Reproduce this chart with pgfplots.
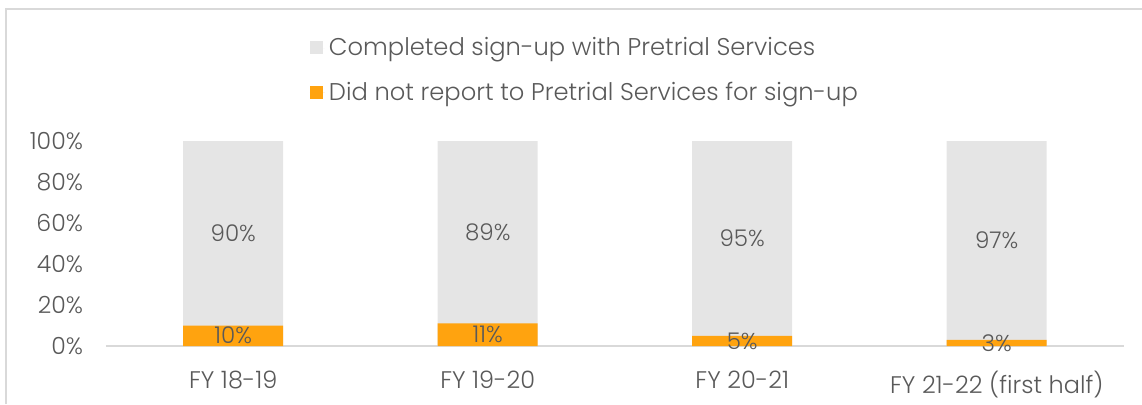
\documentclass[border=0pt]{standalone}
\usepackage{pgfplots}
\pgfplotsset{compat=1.18}
\usepackage{fontspec}
\setmainfont{Poppins}[UprightFont={* Light}]
\definecolor{txt}{HTML}{595959}
\definecolor{org}{HTML}{FFA30F}
\definecolor{lgray}{HTML}{E5E5E5}
\definecolor{frame}{HTML}{D9D9D9}
\begin{document}
\begin{tikzpicture}
\useasboundingbox (-53pt,-29pt) rectangle (518pt,173pt);
\draw[frame, line width=1pt] (-50pt,-29pt) -- (-50pt,168.5pt) -- (518pt,168.5pt);
\begin{axis}[
  at={(0,0)}, anchor=south west,
  scale only axis, width=509pt, height=102.5pt,
  xmin=-0.5, xmax=3.5, ymin=0, ymax=100,
  ybar, bar width=50pt, bar shift=0pt,
  xtick={0,1,2,3},
  xticklabels={FY 18-19, FY 19-20, FY 20-21, FY 21-22 (first half)},
  ytick={0,20,40,60,80,100},
  yticklabels={0\%,20\%,40\%,60\%,80\%,100\%},
  separate axis lines,
  axis x line*=bottom, axis y line*=left,
  y axis line style={draw=none},
  x axis line style={draw=frame, line width=0.75pt, -},
  tick style={draw=none},
  yticklabel style={font=\fontsize{11.8}{13}\selectfont, text=txt, anchor=east, xshift=-8pt},
  xticklabel style={font=\fontsize{12}{14}\selectfont, text=txt, yshift=-4.5pt},
  legend style={at={(rel axis cs:0.2,1.525)}, anchor=north west, draw=none, fill=none,
    font=\fontsize{12.1}{14}\selectfont, text=txt, row sep=7.5pt, inner sep=0pt,
    legend cell align=left},
  legend image code/.code={\fill[#1] (0pt,-3pt) rectangle (6.5pt,3.5pt); \path (0pt,0pt) -- (7.5pt,0pt);},
  clip=false,
]
\addplot[fill=lgray, draw=none] coordinates {(0,100) (1,100) (2,100) (3,100)};
\addlegendentry{Completed sign-up with Pretrial Services}
\addplot[fill=org, draw=none] coordinates {(0,10) (1,11) (2,5) (3,3)};
\addlegendentry{Did not report to Pretrial Services for sign-up}
\addplot[only marks, mark=none, forget plot, nodes near coords, point meta=explicit symbolic,
  every node near coord/.style={anchor=center, font=\fontsize{11.5}{13}\selectfont, text=txt}]
  coordinates {(0,5)[10\%] (1,5.5)[11\%] (2,2.5)[5\%] (3,1.5)[3\%]
               (0,55)[90\%] (1,55.5)[89\%] (2,52.5)[95\%] (3,51.5)[97\%]};
\end{axis}
\end{tikzpicture}
\end{document}
